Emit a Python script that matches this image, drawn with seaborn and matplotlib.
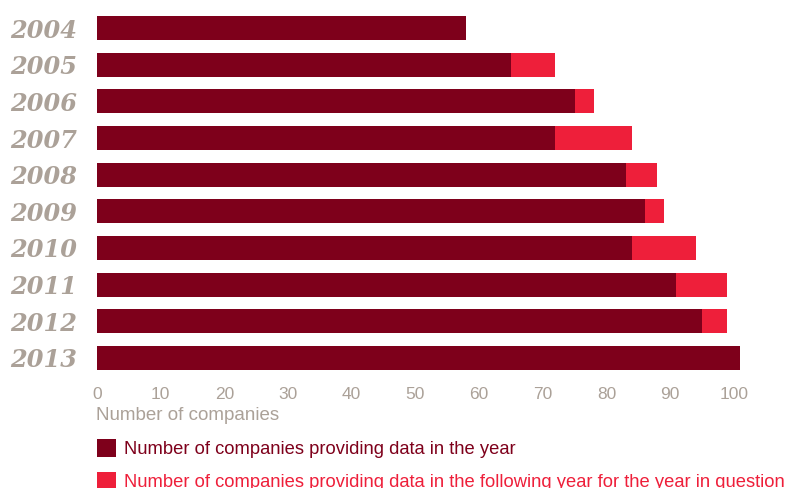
import matplotlib
matplotlib.use("Agg")
import matplotlib.pyplot as plt
import seaborn as sns
import pandas as pd
from matplotlib.patches import Patch

years = ["2004", "2005", "2006", "2007", "2008", "2009", "2010", "2011", "2012", "2013"]
in_year = [58, 65, 75, 72, 83, 86, 84, 91, 95, 101]
following_total = [58, 72, 78, 84, 88, 89, 94, 99, 99, 101]
x_ticks = [0, 10, 20, 30, 40, 50, 60, 70, 80, 90, 100]
label_in_year = "Number of companies providing data in the year"
label_following = "Number of companies providing data in the following year for the year in question"
x_title = "Number of companies"

DARK = "#7E001B"
LIGHT = "#EE1F3A"
GREY = "#ABA198"

sns.set_theme(style="white")
plt.rcParams["font.family"] = ["Liberation Sans", "DejaVu Sans"]

df = pd.DataFrame({"year": years, "in_year": in_year, "total": following_total})

fig = plt.figure(figsize=(7.9, 4.88), dpi=100)
ax = fig.add_axes([97 / 790, (488 - 376.3) / 488, 675 / 790, (376.3 - 9.7) / 488])

sns.barplot(data=df, x="total", y="year", color=LIGHT, orient="h", width=0.65,
            saturation=1, ax=ax, edgecolor="none", linewidth=0)
sns.barplot(data=df, x="in_year", y="year", color=DARK, orient="h", width=0.65,
            saturation=1, ax=ax, edgecolor="none", linewidth=0)

ax.set_xlim(0, 106)
ax.set_ylim(9.5, -0.5)
ax.set_xticks(x_ticks)
ax.set_xticklabels([str(t) for t in x_ticks], color=GREY, fontsize=12.5)
ax.tick_params(axis="x", length=0, pad=8)
ax.tick_params(axis="y", length=0, pad=14.5)
for lab in ax.get_yticklabels():
    lab.set_fontfamily("DejaVu Serif")
    lab.set_fontstyle("italic")
    lab.set_fontweight("bold")
    lab.set_fontsize(17.3)
    lab.set_color(GREY)
ax.set_xlabel("")
ax.set_ylabel("")
for s in ax.spines.values():
    s.set_visible(False)
ax.grid(False)

fig.text(96 / 790, 1 - 416 / 488, x_title, color=GREY, fontsize=13.5, va="center", ha="left")

handles = [Patch(facecolor=DARK, edgecolor="none"), Patch(facecolor=LIGHT, edgecolor="none")]
fig.legend(handles, [label_in_year, label_following], loc="upper left",
           bbox_to_anchor=(97 / 790, 1 - 439 / 488), frameon=False, fontsize=13.2,
           labelcolor=[DARK, LIGHT], handlelength=1.05, handleheight=1.15,
           handletextpad=0.4, labelspacing=0.75, borderaxespad=0, borderpad=0)

fig.savefig("out.png", dpi=100)
